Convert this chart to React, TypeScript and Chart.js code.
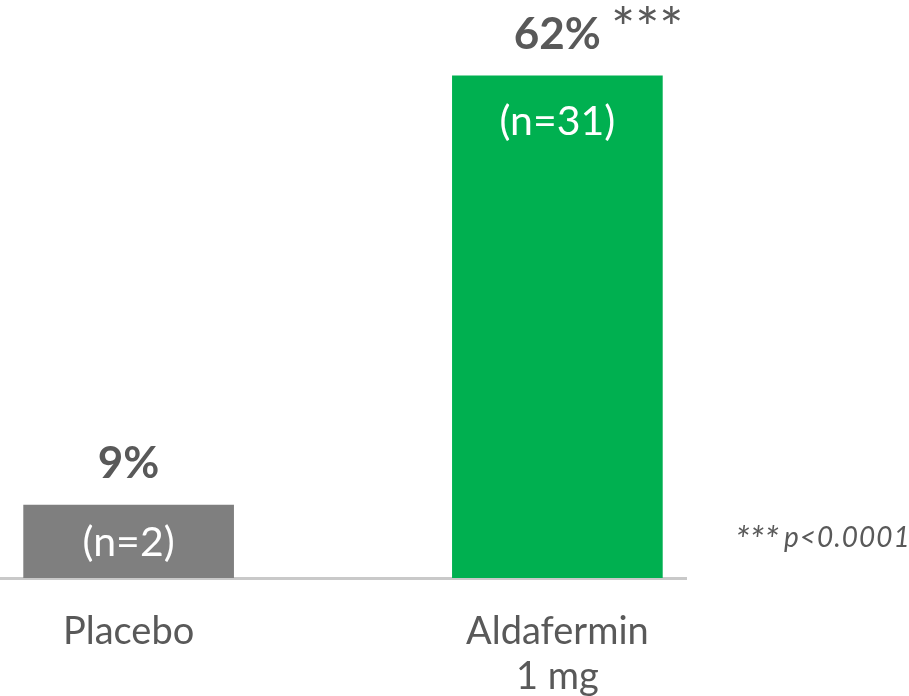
import React, { useEffect, useRef } from "react";
import { Chart, registerables } from "chart.js";

Chart.register(...registerables);

// Response rates (%) by treatment arm
const categories: (string | string[])[] = ["Placebo", ["Aldafermin", "1 mg"]];
const responseRates = [9, 62];
const responderCounts = ["(n=2)", "(n=31)"];
const significance = ["", "***"];
const barColors = ["#7f7f7f", "#00b050"];
const footnoteMark = "***";
const footnoteText = "p<0.0001";

const TEXT_GRAY = "#595959";
const FONT = "Lato, 'Open Sans', sans-serif";

const labelPlugin = {
  id: "barLabels",
  afterDatasetsDraw(chart: any) {
    const { ctx } = chart;
    const meta = chart.getDatasetMeta(0);
    ctx.save();
    meta.data.forEach((bar: any, i: number) => {
      const { x, y, base } = bar.getProps(["x", "y", "base"], true);

      // percentage above the bar
      const valueText = `${responseRates[i]}%`;
      ctx.font = `bold 44px ${FONT}`;
      ctx.fillStyle = TEXT_GRAY;
      ctx.textAlign = "center";
      ctx.textBaseline = "alphabetic";
      const valueBaseline = y - 27;
      ctx.fillText(valueText, x, valueBaseline);

      // significance marker, set as a superscript
      if (significance[i]) {
        const w = ctx.measureText(valueText).width;
        ctx.font = `57px ${FONT}`;
        ctx.textAlign = "left";
        ctx.fillText(significance[i], x + w / 2 + 10, valueBaseline - 1);
      }

      // responder count inside the bar
      ctx.font = `41px ${FONT}`;
      ctx.fillStyle = "#ffffff";
      ctx.textAlign = "center";
      const nBaseline = Math.min(y + 59, (y + base) / 2 + 14);
      ctx.fillText(responderCounts[i], x, nBaseline);
    });

    // significance footnote
    ctx.fillStyle = TEXT_GRAY;
    ctx.textAlign = "left";
    ctx.textBaseline = "alphabetic";
    ctx.font = `italic 37px ${FONT}`;
    ctx.fillText(footnoteMark, 735, 553);
    ctx.font = `italic 28px ${FONT}`;
    (ctx as any).letterSpacing = "1px";
    ctx.fillText(footnoteText, 784, 547);
    ctx.restore();
  },
};

export default function App() {
  const canvasRef = useRef<HTMLCanvasElement | null>(null);

  useEffect(() => {
    if (!canvasRef.current) return;
    const chart = new Chart(canvasRef.current, {
      type: "bar",
      data: {
        datasets: [
          {
            data: responseRates.map((v, i) => ({ x: i, y: v })),
            backgroundColor: barColors,
            barThickness: 210,
            borderWidth: 0,
          },
        ],
      },
      options: {
        animation: false,
        responsive: true,
        maintainAspectRatio: false,
        layout: { padding: { top: 11, right: 223, left: 0, bottom: 0 } },
        plugins: {
          legend: { display: false },
          tooltip: { enabled: false },
        },
        scales: {
          x: {
            type: "linear",
            min: -0.3,
            max: 1.3,
            offset: false,
            z: 1,
            grid: { display: false, drawTicks: false },
            border: { display: true, color: "#c9c9c9", width: 3 },
            afterBuildTicks: (scale: any) => {
              scale.ticks = categories.map((_, i) => ({ value: i }));
            },
            afterFit: (scale: any) => {
              scale.height = 118;
            },
            ticks: {
              padding: 31,
              color: TEXT_GRAY,
              font: { family: FONT, size: 38, lineHeight: 1.19 },
              maxRotation: 0,
              autoSkip: false,
              callback: (value: any) => categories[Number(value)] ?? "",
            },
          },
          y: {
            display: false,
            min: 0,
            max: 70,
          },
        },
      },
      plugins: [labelPlugin],
    });
    return () => chart.destroy();
  }, []);

  return (
    <div
      style={{
        position: "fixed",
        left: 0,
        top: 0,
        width: 909,
        height: 696,
        background: "#ffffff",
      }}
    >
      <canvas ref={canvasRef} />
    </div>
  );
}
